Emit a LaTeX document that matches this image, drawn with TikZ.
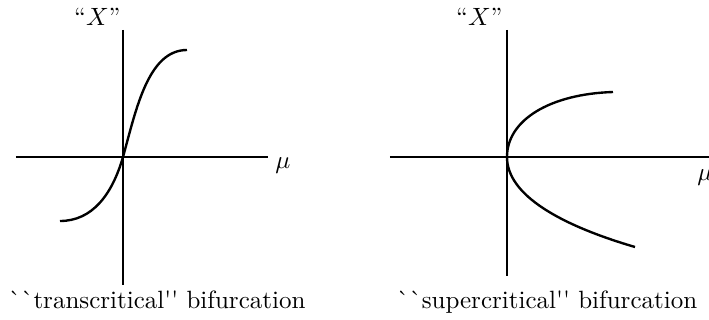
\documentclass[tikz,border=0pt]{standalone}
\usetikzlibrary{positioning}
\newcommand{\grv}{\textasciigrave}
\newcommand{\sq}{\textquotesingle}
\begin{document}
\begin{tikzpicture}[x=0.40pt,y=-0.40pt,
  axis/.style={line width=0.8pt},
  branch/.style={line width=0.95pt},
  lbl/.style={inner sep=0pt,font=\normalsize}]
  \useasboundingbox (0,0) rectangle (709,320);
  % transcritical
  \coordinate (Ltop) at (123,30);
  \coordinate (Lbot) at (123,285);
  \coordinate (Lwest) at (16,157);
  \coordinate (Least) at (268,157);
  \coordinate (LO) at (123,157);
  \draw[axis] (Ltop) -- (Lbot);
  \draw[axis] (Lwest) -- (Least);
  \draw[branch] (60,221) .. controls (92,221) and (112,195) .. (LO)
    .. controls (136,110) and (148,50) .. (187,50);
  \node[lbl,anchor=base east] (LX) at (121,25) {``$X$''};
  \node[lbl,anchor=base west] (Lmu) at (275,168) {$\mu$};
  \node[lbl,anchor=base] (Lcap) at (157,309)
    {\grv\grv transcritical\sq\sq\ bifurcation};
  % supercritical
  \coordinate (Rtop) at (507,30);
  \coordinate (Rbot) at (507,276);
  \coordinate (Rwest) at (390,157);
  \coordinate (Reast) at (720,157);
  \coordinate (RO) at (507,157);
  \draw[axis] (Rtop) -- (Rbot);
  \draw[axis] (Rwest) -- (Reast);
  \draw[branch] (613,92) .. controls (550,94) and (507,120) .. (RO)
    .. controls (507,195) and (560,225) .. (635,247);
  \node[lbl,anchor=base east] (RX) at (503,25) {``$X$''};
  \node[lbl,anchor=base west] (Rmu) at (697,181) {$\mu$};
  \node[lbl,anchor=base] (Rcap) at (547,309)
    {\grv\grv supercritical\sq\sq\ bifurcation};
\end{tikzpicture}
\end{document}
